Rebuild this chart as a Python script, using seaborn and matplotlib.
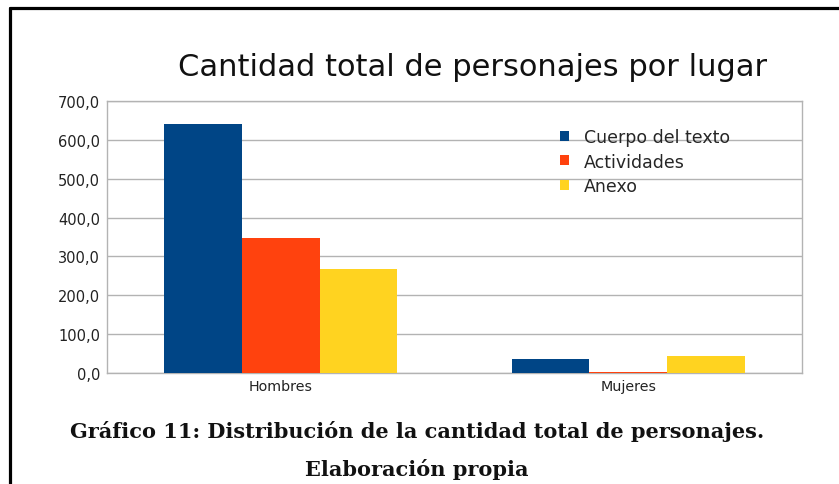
import numpy as np
import pandas as pd
import matplotlib
matplotlib.use("Agg")
import matplotlib.pyplot as plt
import seaborn as sns
from matplotlib.lines import Line2D
from matplotlib.ticker import FuncFormatter, MultipleLocator

# --- data ---
lugares = ["Hombres", "Mujeres"]
series = ["Cuerpo del texto", "Actividades", "Anexo"]
cuerpo = [641, 36]
actividades = [347, 2]
anexo = [268, 44]
colores = ["#004586", "#ff420e", "#ffd320"]

df = pd.DataFrame({
    "lugar": lugares * 3,
    "serie": np.repeat(series, len(lugares)),
    "valor": cuerpo + actividades + anexo,
})

sns.set_theme(style="white")
plt.rcParams["font.family"] = ["DejaVu Sans"]

W, H = 839, 485
fig = plt.figure(figsize=(W / 100, H / 100), dpi=100)
ax = fig.add_axes([107 / W, 1 - 374 / H, (802 - 107) / W, (374 - 102) / H])

sns.barplot(data=df, x="lugar", y="valor", hue="serie", hue_order=series,
            palette=colores, width=0.67, gap=0, saturation=1,
            linewidth=0, edgecolor="none",
            errorbar=None, ax=ax, zorder=3)

ax.set_ylim(0, 700)
ax.set_xlim(-0.5, 1.5)
ax.yaxis.set_major_locator(MultipleLocator(100))
ax.yaxis.set_major_formatter(FuncFormatter(lambda v, p: f"{v:.1f}".replace(".", ",")))
ax.grid(axis="y", color="#b3b3b3", linewidth=1, zorder=0)
for s in ax.spines.values():
    s.set_color("#b3b3b3")
    s.set_linewidth(1)
ax.tick_params(axis="y", labelsize=10.5, length=0, pad=5, colors="#222222")
ax.tick_params(axis="x", labelsize=10.3, length=0, pad=4, colors="#222222")
ax.set_xlabel("")
ax.set_ylabel("")

ax.legend(loc="upper left", bbox_to_anchor=(560 / W, 1 - 129 / H),
          bbox_transform=fig.transFigure, frameon=False, fontsize=12.5,
          handlelength=0.5, handleheight=0.5, handletextpad=0.9,
          labelspacing=0.38, borderpad=0, borderaxespad=0)

fig.text(473 / W, 1 - 68 / H, "Cantidad total de personajes por lugar",
         ha="center", va="center", fontsize=22, color="#111111")

fig.text(417 / W, 1 - 432 / H,
         "Gráfico 11: Distribución de la cantidad total de personajes.",
         ha="center", va="center", fontsize=15, fontweight="bold",
         family=["DejaVu Serif"], color="#111111")
fig.text(417 / W, 1 - 470 / H, "Elaboración propia",
         ha="center", va="center", fontsize=15, fontweight="bold",
         family=["DejaVu Serif"], color="#111111")

# page frame (top and left border)
fig.add_artist(Line2D([10 / W, 1], [1 - 9 / H, 1 - 9 / H], color="black",
                      linewidth=2.3, transform=fig.transFigure))
fig.add_artist(Line2D([10 / W, 10 / W], [1 - 9 / H, 0], color="black",
                      linewidth=2.3, transform=fig.transFigure))

fig.savefig("out.png", dpi=100)
